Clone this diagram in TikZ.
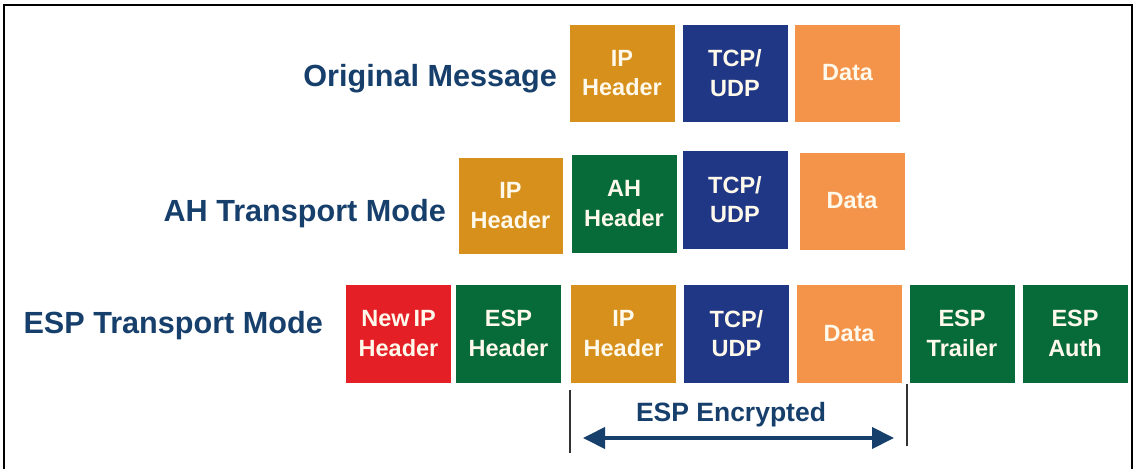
\documentclass[tikz,border=0pt]{standalone}
\usepackage{fontspec}
\setmainfont{Liberation Sans}
\usetikzlibrary{arrows.meta}
\definecolor{gold}{HTML}{D6901B}
\definecolor{navybox}{HTML}{1F3784}
\definecolor{orangebox}{HTML}{F4944A}
\definecolor{greenbox}{HTML}{066B39}
\definecolor{redbox}{HTML}{E41F26}
\definecolor{labelblue}{HTML}{173F6C}
\definecolor{boxtext}{HTML}{FFF9EC}
\begin{document}
\begin{tikzpicture}[x=1pt,y=-1pt,
  pk/.style={minimum width=106pt,minimum height=98pt,inner sep=0pt,align=center,
    text=boxtext,font=\fontsize{23.5}{29.5}\selectfont\bfseries,draw=white,line width=0.6pt},
  rowlabel/.style={anchor=base east,inner sep=0pt,text=labelblue,font=\fontsize{30.6}{34}\selectfont\bfseries},
  tick/.style={draw=black!80,line width=1.3pt},
  span/.style={draw=labelblue,line width=4pt,{Triangle[length=22pt,width=21pt]}-{Triangle[length=22pt,width=21pt]}}
]
\useasboundingbox (0,0) rectangle (1139,468);
\fill[white] (0,0) rectangle (1139,468);
\draw[line width=2.5pt,black] (4,472) -- (4,5) -- (1132,5) -- (1132,472);

% Row 1
\node[rowlabel] (l1) at (557,87) {Original Message};
\node[pk,fill=gold] (o1) at (622,73) {IP\\Header};
\node[pk,fill=navybox] (o2) at (735,73) {TCP/\\UDP};
\node[pk,fill=orangebox] (o3) at (847.5,73) {Data};

% Row 2
\node[rowlabel] (l2) at (446,221) {AH Transport Mode};
\node[pk,fill=gold,minimum width=105pt,minimum height=97pt] (a1) at (510.5,205.5) {IP\\Header};
\node[pk,fill=greenbox,minimum height=99pt] (a2) at (624,203.5) {AH\\Header};
\node[pk,fill=navybox,minimum height=99pt] (a3) at (735,199.5) {TCP/\\UDP};
\node[pk,fill=orangebox] (a4) at (852,201) {Data};

% Row 3
\node[rowlabel] (l3) at (323,333) {ESP Transport Mode};
\node[pk,fill=redbox,minimum height=99pt] (e1) at (398.5,333.5) {New\,IP\\Header};
\node[pk,fill=greenbox,minimum height=99pt] (e2) at (508.5,333.5) {ESP\\Header};
\node[pk,fill=gold,minimum height=99pt] (e3) at (623.5,333.5) {IP\\Header};
\node[pk,fill=navybox,minimum height=99pt] (e4) at (736.5,333.5) {TCP/\\UDP};
\node[pk,fill=orangebox,minimum height=99pt] (e5) at (849,333.5) {Data};
\node[pk,fill=greenbox,minimum height=99pt] (e6) at (962,333.5) {ESP\\Trailer};
\node[pk,fill=greenbox,minimum height=99pt] (e7) at (1075,333.5) {ESP\\Auth};

% Encrypted span
\coordinate (t1a) at (570,390);
\coordinate (t1b) at (570,453);
\coordinate (t2a) at (907,384);
\coordinate (t2b) at (907,446);
\draw[tick] (t1a) -- (t1b);
\draw[tick] (t2a) -- (t2b);
\coordinate (ar1) at (583,438);
\coordinate (ar2) at (894,438);
\draw[span] (ar1) -- (ar2);
\node[anchor=base,inner sep=0pt,text=labelblue,font=\fontsize{26.5}{30}\selectfont\bfseries] (enc) at (731,421) {ESP Encrypted};
\end{tikzpicture}
\end{document}
